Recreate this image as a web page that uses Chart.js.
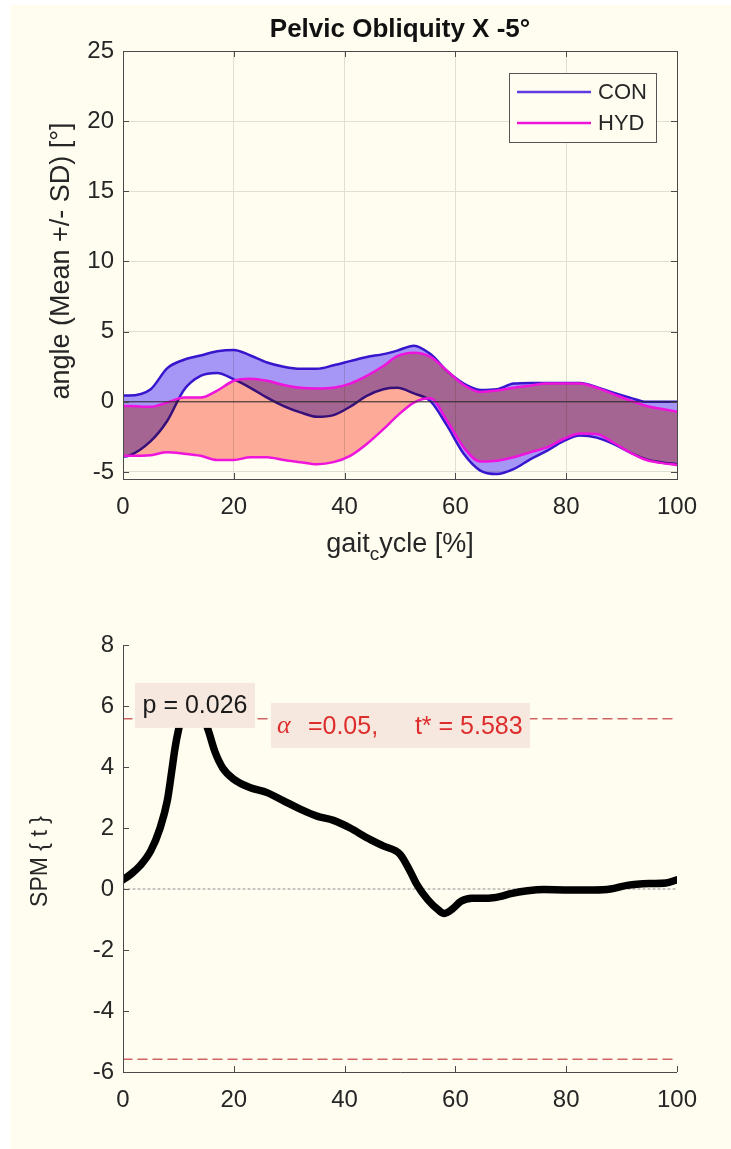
<!DOCTYPE html>
<html><head><meta charset="utf-8">
<script src="https://cdn.jsdelivr.net/npm/chart.js@4.4.0/dist/chart.umd.min.js"></script>
<style>
html,body{margin:0;padding:0;background:#fff;width:731px;height:1149px;overflow:hidden}
#bg{position:absolute;left:10px;top:5px;width:721px;height:1144px;background:rgb(255,253,240)}
#wa{position:absolute;left:0;top:0;width:731px;height:590px}
#wb{position:absolute;left:0;top:590px;width:731px;height:559px}
canvas{display:block}
</style></head><body>
<div id="bg"></div>
<div id="wa"><canvas id="ca" width="731" height="590" style="width:731px;height:590px"></canvas></div>
<div id="wb"><canvas id="cb" width="731" height="559" style="width:731px;height:559px"></canvas></div>
<script>
// ---------- data ----------
const gaitX    = [0,1,5,8,11,14,17,20,23,26,29,32,35,38,41,44,47,49.5,52.5,55.5,58.5,61.5,64.5,67.5,70.5,73.5,76.5,79.5,82.5,85.5,88.5,91.5,94.5,97,100];
const conUpper = [0.45,0.45,0.9,2.4,3.0,3.3,3.6,3.7,3.3,2.8,2.5,2.35,2.35,2.6,2.9,3.2,3.4,3.65,4.0,3.4,2.2,1.3,0.85,0.9,1.3,1.35,1.35,1.35,1.35,1.05,0.65,0.3,0.0,0.0,0.0];
const conLower = [-3.9,-3.85,-2.8,-1.35,0.85,1.85,2.05,1.6,1.0,0.3,-0.3,-0.75,-1.07,-0.95,-0.35,0.43,0.9,1.0,0.6,0.05,-1.7,-3.7,-4.9,-5.15,-4.8,-4.1,-3.5,-2.8,-2.4,-2.55,-3.0,-3.6,-4.1,-4.3,-4.45];
const hydUpper = [-0.3,-0.3,-0.35,-0.05,0.3,0.3,0.8,1.5,1.65,1.5,1.2,1.0,0.95,1.0,1.3,1.85,2.55,3.25,3.5,3.2,2.2,1.2,0.7,0.8,1.0,1.15,1.3,1.3,1.3,1.0,0.55,0.1,-0.3,-0.5,-0.7];
const hydLower = [-3.85,-3.85,-3.8,-3.6,-3.7,-3.85,-4.15,-4.15,-3.95,-3.95,-4.15,-4.3,-4.45,-4.3,-3.85,-3.0,-1.95,-1.0,-0.05,0.25,-1.35,-3.25,-4.25,-4.2,-3.95,-3.6,-3.25,-2.65,-2.25,-2.3,-2.9,-3.6,-4.15,-4.35,-4.5];

const spmX = [0,1.5,3,5,6.7,8,8.8,9.4,10,11,12.5,14,15.4,16.6,18,20,23,26,29,32,35,38,41,44,47,50,51.8,53,55,57,58,59.5,61,63,66,68,70,73,76,80,85,88,91,95,98,100];
const spmT = [0.3,0.5,0.75,1.25,2.0,2.9,3.87,4.63,5.2,5.9,6.3,5.9,5.2,4.5,3.97,3.6,3.32,3.16,2.89,2.62,2.39,2.25,2.0,1.68,1.41,1.14,0.59,0.16,-0.35,-0.7,-0.8,-0.65,-0.4,-0.3,-0.3,-0.25,-0.15,-0.06,-0.02,-0.03,-0.03,0.0,0.12,0.18,0.2,0.3];

const xTicks     = [0,20,40,60,80,100];
const yTicksTop  = [-5,0,5,10,15,20,25];
const yTicksSpm  = [-6,-4,-2,0,2,4,6,8];
const tStar  = 5.583;
const alphaLevel = 0.05;
const pValue = 0.026;
const seriesNames = ['CON','HYD'];

// ---------- styles ----------
const FONT = "'Liberation Sans', Arial, Helvetica, sans-serif";
const TXT = '#262626';
const AXIS = '#4a4a4a';
const GRID = 'rgb(224,223,212)';
const BG = 'rgb(255,253,240)';
const CON_LINE = 'rgb(55,22,205)';
const HYD_LINE = 'rgb(238,20,220)';
const CON_FILL = 'rgb(166,150,246)';
const HYD_FILL = 'rgb(253,171,152)';
const xy = (xs, ys) => xs.map((x, i) => ({x: x, y: ys[i]}));

function drawInwardTicks(ctx, ca, xs, ys, xsc, ysc, allSides, len) {
  ctx.save();
  ctx.strokeStyle = AXIS; ctx.lineWidth = 1;
  ctx.beginPath();
  xs.forEach(v => {
    const px = Math.round(xsc.getPixelForValue(v)) + 0.5;
    ctx.moveTo(px, ca.bottom); ctx.lineTo(px, ca.bottom - len);
    if (allSides) { ctx.moveTo(px, ca.top); ctx.lineTo(px, ca.top + len); }
  });
  ys.forEach(v => {
    const py = Math.round(ysc.getPixelForValue(v)) + 0.5;
    ctx.moveTo(ca.left, py); ctx.lineTo(ca.left + len, py);
    if (allSides) { ctx.moveTo(ca.right, py); ctx.lineTo(ca.right - len, py); }
  });
  ctx.stroke();
  ctx.restore();
}

const multiplyFill = {
  id: 'multiplyFill',
  beforeDatasetsDraw(c) { c.ctx.globalCompositeOperation = 'multiply'; },
  beforeDatasetDraw(c) { c.ctx.globalCompositeOperation = 'source-over'; },
  afterDatasetDraw(c) { c.ctx.globalCompositeOperation = 'multiply'; },
  afterDatasetsDraw(c) { c.ctx.globalCompositeOperation = 'source-over'; }
};

const topDeco = {
  id: 'topDeco',
  afterDraw(chart) {
    const ctx = chart.ctx, ca = chart.chartArea;
    const xs = chart.scales.x, ys = chart.scales.y;
    ctx.save();
    ctx.strokeStyle = AXIS; ctx.lineWidth = 1;
    ctx.strokeRect(Math.round(ca.left) + 0.5, Math.round(ca.top) + 0.5, Math.round(ca.right - ca.left), Math.round(ca.bottom - ca.top));
    drawInwardTicks(ctx, ca, xTicks, yTicksTop, xs, ys, true, 6);
    // title
    ctx.fillStyle = '#111';
    ctx.font = 'bold 26px ' + FONT;
    ctx.textAlign = 'center'; ctx.textBaseline = 'middle';
    ctx.fillText('Pelvic Obliquity X -5°', (ca.left + ca.right) / 2, 30);
    // y title
    ctx.fillStyle = TXT;
    ctx.font = '27px ' + FONT;
    ctx.save();
    ctx.translate(62, (ca.top + ca.bottom) / 2 - 4);
    ctx.rotate(-Math.PI / 2);
    ctx.fillText('angle (Mean +/- SD) [°]', 0, 0);
    ctx.restore();
    // x title with subscript
    const a = 'gait', s = 'c', b = 'ycle [%]';
    ctx.font = '27px ' + FONT;
    const wa = ctx.measureText(a).width, wb = ctx.measureText(b).width;
    ctx.font = '19px ' + FONT;
    const ws = ctx.measureText(s).width;
    let x0 = (ca.left + ca.right) / 2 - (wa + ws + wb) / 2;
    const yb = 545;
    ctx.textAlign = 'left';
    ctx.font = '27px ' + FONT; ctx.fillText(a, x0, yb);
    ctx.font = '19px ' + FONT; ctx.fillText(s, x0 + wa, yb + 10);
    ctx.font = '27px ' + FONT; ctx.fillText(b, x0 + wa + ws, yb);
    // legend
    const lx = 509.5, ly = 73.5, lw = 147, lh = 69;
    ctx.fillStyle = BG; ctx.fillRect(lx, ly, lw, lh);
    ctx.strokeStyle = '#555'; ctx.lineWidth = 1; ctx.strokeRect(lx, ly, lw, lh);
    const rows = [[seriesNames[0], 'rgb(95,60,225)', 92], [seriesNames[1], HYD_LINE, 123]];
    ctx.font = '22px ' + FONT; ctx.textBaseline = 'middle'; ctx.textAlign = 'left';
    rows.forEach(r => {
      ctx.strokeStyle = r[1]; ctx.lineWidth = 2.5;
      ctx.beginPath(); ctx.moveTo(517, r[2]); ctx.lineTo(591, r[2]); ctx.stroke();
      ctx.fillStyle = TXT; ctx.fillText(r[0], 598, r[2] + 1);
    });
    ctx.restore();
  }
};

const tickFont = {family: FONT, size: 24};

new Chart(document.getElementById('ca'), {
  type: 'line',
  data: { datasets: [
    {label: 'CON', data: xy(gaitX, conUpper), borderColor: CON_LINE, borderWidth: 2.5, pointRadius: 0, fill: false, order: 2},
    {label: 'CON lower', data: xy(gaitX, conLower), borderColor: CON_LINE, borderWidth: 2.5, pointRadius: 0, fill: '-1', backgroundColor: CON_FILL, order: 2},
    {label: 'HYD', data: xy(gaitX, hydUpper), borderColor: HYD_LINE, borderWidth: 2.5, pointRadius: 0, fill: false, order: 1},
    {label: 'HYD lower', data: xy(gaitX, hydLower), borderColor: HYD_LINE, borderWidth: 2.5, pointRadius: 0, fill: '-1', backgroundColor: HYD_FILL, order: 1},
    {label: 'zero', data: xy([0, 100], [0, 0]), borderColor: '#2a2a2a', borderWidth: 1, pointRadius: 0, fill: false, order: 0}
  ]},
  options: {
    responsive: false, animation: false, devicePixelRatio: 1,
    layout: {padding: {top: 51, right: 54, bottom: 0, left: 0}},
    elements: {line: {cubicInterpolationMode: 'monotone', borderCapStyle: 'round', borderJoinStyle: 'round'}},
    plugins: {legend: {display: false}, tooltip: {enabled: false}, title: {display: false}},
    scales: {
      x: {type: 'linear', min: 0, max: 100,
          afterFit: s => { s.height = 111; },
          afterBuildTicks: s => { s.ticks = xTicks.map(v => ({value: v})); },
          grid: {color: GRID, drawTicks: false, lineWidth: 1},
          border: {display: false},
          ticks: {font: tickFont, color: TXT, padding: 14, maxRotation: 0, autoSkip: false}},
      y: {type: 'linear', min: -5.5, max: 25,
          afterFit: s => { s.width = 123; },
          afterBuildTicks: s => { s.ticks = yTicksTop.map(v => ({value: v})); },
          grid: {color: GRID, drawTicks: false, lineWidth: 1},
          border: {display: false},
          ticks: {font: tickFont, color: TXT, padding: 9}}
    }
  },
  plugins: [multiplyFill, topDeco]
});

const spmDeco = {
  id: 'spmDeco',
  afterDatasetsDraw(chart) {
    const ctx = chart.ctx;
    const xs = chart.scales.x, ys = chart.scales.y;
    ctx.save();
    ctx.textBaseline = 'middle';
    ctx.font = '25px ' + FONT;
    const ptxt = 'p = ' + pValue.toFixed(3);
    const pw = ctx.measureText(ptxt).width;
    const pcx = xs.getPixelForValue(13), pcy = ys.getPixelForValue(6.02);
    const bw = pw + 15, bh = 45;
    ctx.fillStyle = 'rgb(246,232,222)';
    ctx.fillRect(pcx - bw / 2, pcy - bh / 2, bw, bh);
    ctx.fillStyle = '#1a1a1a'; ctx.textAlign = 'center';
    ctx.fillText(ptxt, pcx, pcy + 1);
    const bx = xs.getPixelForValue(26.7), bcy = ys.getPixelForValue(5.36);
    ctx.fillStyle = 'rgb(246,232,222)';
    ctx.fillRect(bx, bcy - 22.5, 259, 45);
    ctx.fillStyle = 'rgb(222,45,45)'; ctx.textAlign = 'left';
    ctx.font = 'italic 26px "Liberation Serif", "DejaVu Serif", serif';
    ctx.fillText('α', bx + 6, bcy + 1);
    ctx.font = '25px ' + FONT;
    ctx.fillText('=' + alphaLevel.toFixed(2) + ',', bx + 37, bcy + 2);
    ctx.fillText('t* = ' + tStar.toFixed(3), bx + 144, bcy + 2);
    ctx.restore();
  },
  afterDraw(chart) {
    const ctx = chart.ctx, ca = chart.chartArea;
    const xs = chart.scales.x, ys = chart.scales.y;
    ctx.save();
    ctx.strokeStyle = AXIS; ctx.lineWidth = 1;
    ctx.beginPath();
    const L = Math.round(ca.left) + 0.5, B = Math.round(ca.bottom) + 0.5;
    ctx.moveTo(L, ca.top); ctx.lineTo(L, B); ctx.lineTo(ca.right, B);
    ctx.stroke();
    drawInwardTicks(ctx, ca, xTicks, yTicksSpm, xs, ys, false, 6);
    ctx.fillStyle = TXT; ctx.font = '23px ' + FONT;
    ctx.textAlign = 'center'; ctx.textBaseline = 'middle';
    ctx.translate(41, (ca.top + ca.bottom) / 2 + 3);
    ctx.rotate(-Math.PI / 2);
    ctx.fillText('SPM { t }', 0, 0);
    ctx.restore();
  }
};

new Chart(document.getElementById('cb'), {
  type: 'line',
  data: { datasets: [
    {label: 'SPM{t}', data: xy(spmX, spmT), borderColor: '#000', borderWidth: 7.5, pointRadius: 0, fill: false, order: 0},
    {label: 'zero', data: xy([0, 100], [0, 0]), borderColor: '#8a8a8a', borderWidth: 1, borderDash: [2, 3], pointRadius: 0, fill: false, order: 3},
    {label: 'upper threshold', data: xy([0, 100], [tStar, tStar]), borderColor: 'rgb(208,100,100)', borderWidth: 1.5, borderDash: [9, 6], pointRadius: 0, fill: false, order: 2},
    {label: 'lower threshold', data: xy([0, 100], [-tStar, -tStar]), borderColor: 'rgb(208,100,100)', borderWidth: 1.5, borderDash: [9, 6], pointRadius: 0, fill: false, order: 2}
  ]},
  options: {
    responsive: false, animation: false, devicePixelRatio: 1,
    layout: {padding: {top: 55, right: 54, bottom: 0, left: 0}},
    elements: {line: {cubicInterpolationMode: 'monotone', borderCapStyle: 'round', borderJoinStyle: 'round'}},
    plugins: {legend: {display: false}, tooltip: {enabled: false}, title: {display: false}},
    scales: {
      x: {type: 'linear', min: 0, max: 100,
          afterFit: s => { s.height = 77; },
          afterBuildTicks: s => { s.ticks = xTicks.map(v => ({value: v})); },
          grid: {display: false, drawTicks: false},
          border: {display: false},
          ticks: {font: tickFont, color: TXT, padding: 14, maxRotation: 0, autoSkip: false}},
      y: {type: 'linear', min: -6, max: 8,
          afterFit: s => { s.width = 123; },
          afterBuildTicks: s => { s.ticks = yTicksSpm.map(v => ({value: v})); },
          grid: {display: false, drawTicks: false},
          border: {display: false},
          ticks: {font: tickFont, color: TXT, padding: 9}}
    }
  },
  plugins: [spmDeco]
});
</script>
</body></html>
